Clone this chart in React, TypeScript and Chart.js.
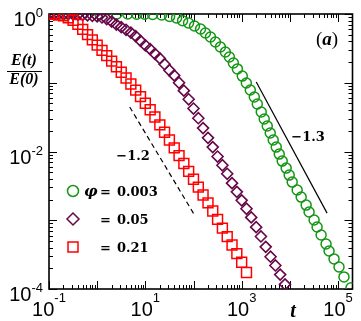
import React, { useEffect, useRef } from "react";
import { Chart, registerables } from "chart.js";

Chart.register(...registerables);

// time grid (shared by the phi = 0.05 and phi = 0.21 runs)
const timeGrid = [
  0.1, 0.126, 0.158, 0.2, 0.251, 0.316, 0.398, 0.501, 0.631, 0.794,
  1, 1.26, 1.58, 2, 2.51, 3.16, 3.98, 5.01, 6.31, 7.94,
  10, 12.6, 15.8, 20, 25.1, 31.6, 39.8, 50.1, 63.1, 79.4,
  100, 126, 158, 200, 251, 316, 398, 501, 631, 794,
  1000, 1260, 1580, 2000, 2510, 3160, 3980, 5010, 6310, 7940,
];

// phi = 0.21 (red squares)
const redE = [
  1, 0.989, 0.968, 0.938, 0.881, 0.811, 0.706, 0.597, 0.501, 0.42,
  0.352, 0.296, 0.248, 0.206, 0.171, 0.142, 0.117, 0.0957, 0.0782, 0.0628,
  0.0504, 0.0405, 0.0318, 0.0244, 0.0191, 0.0147, 0.0113, 0.00871, 0.00668, 0.00514,
  0.00395, 0.00303, 0.00233, 0.00179, 0.00136, 0.00103, 0.000769, 0.000578, 0.000436, 0.000327,
  0.000245, 0.000174,
];

// phi = 0.05 (purple diamonds)
const purpleE = [
  1, 1, 0.999, 0.997, 0.993, 0.989, 0.979, 0.971, 0.959, 0.942,
  0.923, 0.891, 0.845, 0.776, 0.701, 0.643, 0.589, 0.537, 0.476, 0.407,
  0.351, 0.308, 0.264, 0.226, 0.186, 0.152, 0.128, 0.1, 0.0767, 0.0575,
  0.0422, 0.0305, 0.0219, 0.0158, 0.0116, 0.00845, 0.00631, 0.00474, 0.00346, 0.00259,
  0.00195, 0.00147, 0.0011, 0.000794, 0.000581, 0.00041, 0.000295, 0.00022, 0.000162, 0.000117,
];

// phi = 0.003 (green circles)
const greenT = [
  0.214, 1.14, 2.55, 4.31, 6.62, 9.69, 14.2, 21.8, 31.9, 44.5,
  59.3, 78.9, 105, 140, 177, 225, 285, 362, 459, 556,
  673, 815, 1030, 1250, 1510, 1830, 2110, 2550, 2940, 3400,
  3920, 4520, 5220, 6030, 6950, 8400, 9700, 11200, 14200, 17200,
  21800, 25100, 31900, 36800, 44600, 56500, 65200, 82800, 105000, 133000,
  186000,
];
const greenE = [
  1, 1, 1, 1, 0.995, 0.99, 0.983, 0.967, 0.92, 0.875,
  0.8, 0.74, 0.67, 0.605, 0.53, 0.463, 0.391, 0.331, 0.28, 0.237,
  0.194, 0.159, 0.125, 0.099, 0.0785, 0.0621, 0.049, 0.0376, 0.0297, 0.0235,
  0.0186, 0.0147, 0.0116, 0.00917, 0.00725, 0.00574, 0.00454, 0.00359, 0.00275, 0.00217,
  0.00166, 0.00132, 0.00101, 0.000797, 0.000611, 0.000452, 0.000357, 0.000274, 0.000209, 0.00015,
  0.000104,
];

// guide lines
const guide13T = [2010, 59300];
const guide13E = [0.1026, 0.00127];
const guide12T = [4.74, 105];
const guide12E = [0.0444, 0.00119];

const xLabelExps = [-1, 1, 3, 5];
const yLabelExps = [0, -2, -4];
const legendValues = ["0.003", "0.05", "0.21"];
const guideLabels = ["\u22121.3", "\u22121.2"];

const GREEN = "rgb(20,150,20)";
const PURPLE = "rgb(103,7,72)";
const RED = "rgb(255,0,0)";

const pts = (xs: number[], ys: number[]) => ys.map((v, i) => ({ x: xs[i], y: v }));

const decor = {
  id: "decor",
  beforeDatasetsDraw(chart: any) {
    const { ctx, chartArea: a, scales } = chart;
    const x = scales.x;
    const y = scales.y;
    ctx.save();
    ctx.strokeStyle = "#000";
    ctx.lineWidth = 1;
    const seg = (x1: number, y1: number, x2: number, y2: number) => {
      ctx.beginPath();
      ctx.moveTo(x1, y1);
      ctx.lineTo(x2, y2);
      ctx.stroke();
    };
    for (let e = -1; e <= 5; e++) {
      for (let m = 1; m <= 9; m++) {
        const v = m * Math.pow(10, e);
        if (v >= x.max) break;
        const px = Math.round(x.getPixelForValue(v)) + 0.5;
        const len = m === 1 ? 8 : 4;
        seg(px, a.bottom, px, a.bottom - len);
        seg(px, a.top, px, a.top + len);
      }
    }
    for (let e = -4; e <= 0; e++) {
      for (let m = 1; m <= 9; m++) {
        const v = m * Math.pow(10, e);
        if (v > y.max) break;
        const py = Math.round(y.getPixelForValue(v)) + 0.5;
        const len = m === 1 ? 8 : 4;
        seg(a.left, py, a.left + len, py);
        seg(a.right, py, a.right - len, py);
      }
    }
    ctx.lineWidth = 1.6;
    ctx.strokeRect(a.left, a.top, a.right - a.left, a.bottom - a.top);
    ctx.restore();
  },
  afterDraw(chart: any) {
    const { ctx, scales } = chart;
    const x = scales.x;
    const y = scales.y;
    ctx.save();
    ctx.fillStyle = "#000";
    ctx.textAlign = "left";
    ctx.textBaseline = "alphabetic";
    const baseFont = "20px 'Liberation Sans'";
    const supFont = "13px 'Liberation Sans'";
    // x tick labels
    for (const e of xLabelExps) {
      const px = x.getPixelForValue(Math.pow(10, e));
      ctx.font = baseFont;
      const wb = ctx.measureText("10").width;
      ctx.font = supFont;
      const sup = String(e);
      const ws = ctx.measureText(sup).width;
      const start = px - (wb + ws) / 2;
      ctx.font = baseFont;
      ctx.fillText("10", start, 316);
      ctx.font = supFont;
      ctx.fillText(sup, start + wb, 302);
    }
    // y tick labels
    for (const e of yLabelExps) {
      const py = y.getPixelForValue(Math.pow(10, e));
      ctx.font = baseFont;
      const wb = ctx.measureText("10").width;
      ctx.font = supFont;
      const sup = String(e);
      const ws = ctx.measureText(sup).width;
      const start = 43 - wb - ws;
      ctx.font = baseFont;
      ctx.fillText("10", start, py + 12);
      ctx.font = supFont;
      ctx.fillText(sup, start + wb, py + 3);
    }
    // axis titles
    ctx.textAlign = "center";
    ctx.font = "bold italic 16px 'Liberation Serif'";
    ctx.fillText("E(t)", 24, 65);
    ctx.fillText("E(0)", 24, 84);
    ctx.lineWidth = 1.2;
    ctx.beginPath();
    ctx.moveTo(7, 71.5);
    ctx.lineTo(42, 71.5);
    ctx.stroke();
    ctx.font = "bold italic 20px 'Liberation Serif'";
    ctx.fillText("t", 293, 317);
    // panel tag
    ctx.textAlign = "left";
    ctx.font = "19px 'Liberation Serif'";
    const wp = ctx.measureText("(").width;
    ctx.font = "bold italic 19px 'Liberation Serif'";
    const wa = ctx.measureText("a").width;
    const tagX = 327 - (2 * wp + wa) / 2;
    ctx.font = "19px 'Liberation Serif'";
    ctx.fillText("(", tagX, 45);
    ctx.font = "bold italic 19px 'Liberation Serif'";
    ctx.fillText("a", tagX + wp, 45);
    ctx.font = "19px 'Liberation Serif'";
    ctx.fillText(")", tagX + wp + wa, 45);
    // guide labels
    ctx.textAlign = "center";
    ctx.textBaseline = "middle";
    ctx.font = "bold 13px 'DejaVu Serif'";
    ctx.fillText(guideLabels[0], 308, 138);
    ctx.fillText(guideLabels[1], 133, 157);
    // legend
    const rows = [191, 219, 247];
    const colors = [GREEN, PURPLE, RED];
    ctx.lineWidth = 1.5;
    rows.forEach((ry, i) => {
      ctx.strokeStyle = colors[i];
      ctx.beginPath();
      if (i === 0) {
        ctx.arc(73, ry, 5.5, 0, Math.PI * 2);
      } else if (i === 1) {
        ctx.moveTo(73 - 6, ry);
        ctx.lineTo(73, ry - 6);
        ctx.lineTo(73 + 6, ry);
        ctx.lineTo(73, ry + 6);
        ctx.closePath();
      } else {
        ctx.rect(68, ry - 5, 10, 10);
      }
      ctx.stroke();
      ctx.textAlign = "left";
      ctx.textBaseline = "alphabetic";
      if (i === 0) {
        ctx.font = "bold italic 15px 'DejaVu Serif'";
        ctx.fillText("\u03c6", 84, ry + 5);
      }
      ctx.font = "bold 13px 'DejaVu Serif'";
      ctx.fillText("=", 100, ry + 5);
      ctx.fillText(legendValues[i], 117, ry + 5);
    });
    ctx.restore();
  },
};

export default function App() {
  const ref = useRef<HTMLCanvasElement>(null);
  useEffect(() => {
    document.body.style.margin = "0";
    const chart = new Chart(ref.current as HTMLCanvasElement, {
      type: "scatter",
      data: {
        datasets: [
          {
            label: "phi = 0.21",
            data: pts(timeGrid.slice(0, redE.length), redE),
            pointStyle: "rect",
            pointRadius: 7,
            borderColor: RED,
            backgroundColor: "rgba(0,0,0,0)",
            borderWidth: 1.5,
            showLine: false,
          },
          {
            label: "phi = 0.05",
            data: pts(timeGrid, purpleE),
            pointStyle: "rectRot",
            pointRadius: 5.5,
            borderColor: PURPLE,
            backgroundColor: "rgba(0,0,0,0)",
            borderWidth: 1.6,
            showLine: false,
          },
          {
            label: "phi = 0.003",
            data: pts(greenT, greenE),
            pointStyle: "circle",
            pointRadius: 5,
            borderColor: GREEN,
            backgroundColor: "rgba(0,0,0,0)",
            borderWidth: 1.5,
            showLine: false,
          },
          {
            label: "-1.3",
            data: pts(guide13T, guide13E),
            showLine: true,
            pointRadius: 0,
            borderColor: "#000",
            borderWidth: 1.2,
          },
          {
            label: "-1.2",
            data: pts(guide12T, guide12E),
            showLine: true,
            pointRadius: 0,
            borderColor: "#000",
            borderWidth: 1.2,
            borderDash: [5, 3.5],
          },
        ],
      },
      options: {
        responsive: false,
        animation: false,
        events: [],
        layout: { padding: { left: 49, right: 8, top: 14, bottom: 32 } },
        plugins: { legend: { display: false }, tooltip: { enabled: false } },
        scales: {
          x: { type: "logarithmic", min: 0.1, max: 200000, display: false },
          y: { type: "logarithmic", min: 0.0001, max: 1, display: false },
        },
      },
      plugins: [decor],
    });
    return () => chart.destroy();
  }, []);
  return (
    <div style={{ position: "fixed", left: 0, top: 0, width: 361, height: 321, background: "#fff" }}>
      <canvas ref={ref} width={361} height={321} style={{ display: "block" }} />
    </div>
  );
}
